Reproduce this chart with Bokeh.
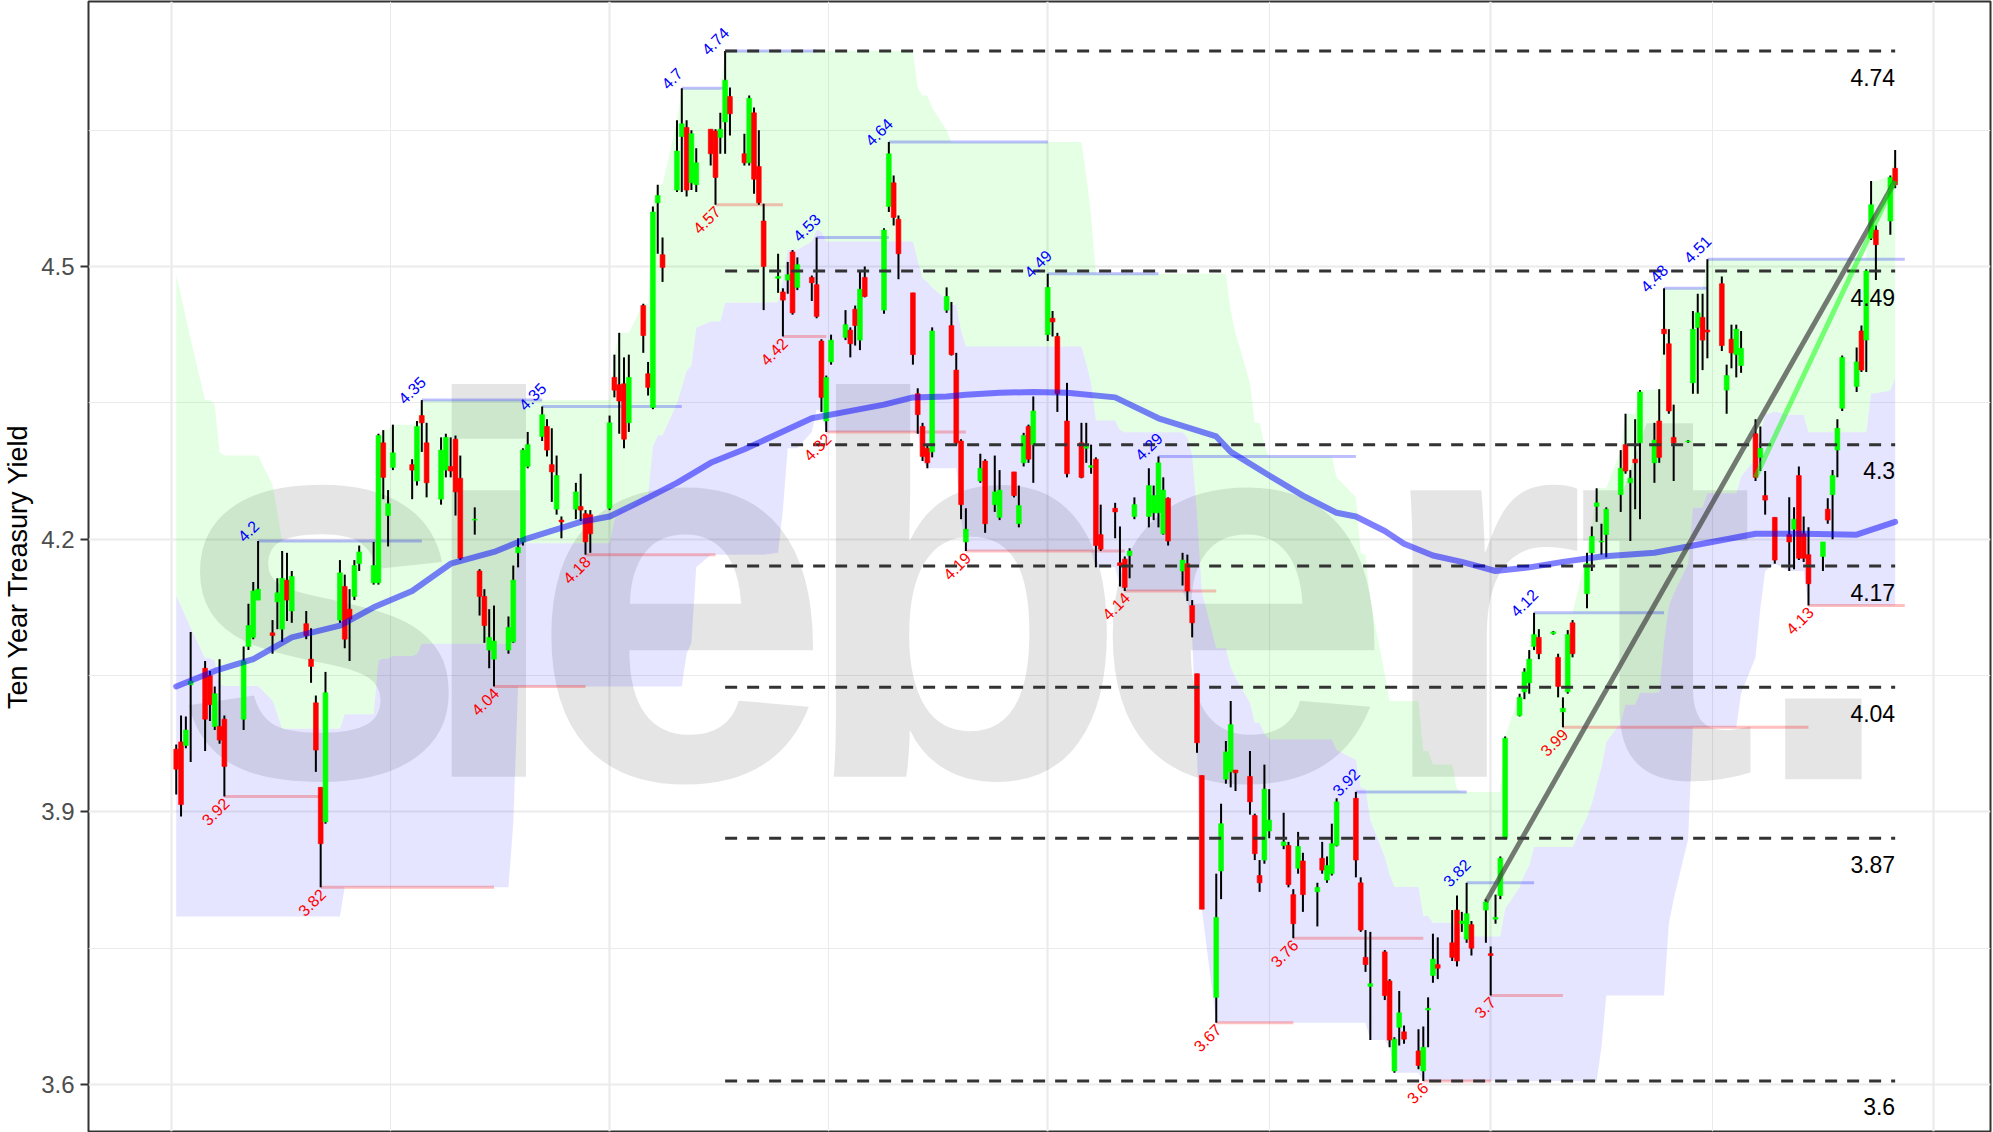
import numpy as np
import pandas as pd
from bokeh.plotting import figure
from bokeh.models import Range1d, FixedTicker
from bokeh.core.properties import value
from bokeh.embed import file_html
from bokeh.resources import INLINE

# ---------------- data: daily candles (day, open, high, low, close) ----------------
jan = [(2, 3.969, 3.974, 3.919, 3.947), (3, 3.977, 4.006, 3.895, 3.908), (4, 3.973, 4.005, 3.970, 3.990),
       (5, 4.040, 4.098, 3.955, 4.044), (8, 4.058, 4.066, 3.967, 4.002), (9, 4.050, 4.055, 4.000, 4.018),
       (10, 3.994, 4.038, 3.990, 4.030), (11, 3.994, 4.068, 3.975, 3.979), (12, 4.002, 4.006, 3.917, 3.950),
       (16, 4.002, 4.082, 3.990, 4.066), (17, 4.082, 4.129, 4.078, 4.105), (18, 4.092, 4.153, 4.090, 4.143),
       (19, 4.133, 4.198, 4.133, 4.145), (22, 4.097, 4.111, 4.074, 4.094), (23, 4.131, 4.157, 4.101, 4.141),
       (24, 4.101, 4.187, 4.087, 4.157), (25, 4.155, 4.185, 4.110, 4.133), (26, 4.121, 4.165, 4.108, 4.159),
       (29, 4.107, 4.121, 4.090, 4.094), (30, 4.068, 4.102, 4.042, 4.060), (31, 4.020, 4.028, 3.944, 3.968)]
feb = [(1, 3.927, 3.927, 3.817, 3.865), (2, 3.889, 4.054, 3.887, 4.031), (5, 4.111, 4.177, 4.108, 4.163),
       (6, 4.148, 4.161, 4.080, 4.090), (7, 4.123, 4.145, 4.066, 4.112), (8, 4.137, 4.177, 4.133, 4.171),
       (9, 4.173, 4.193, 4.165, 4.186), (12, 4.152, 4.197, 4.150, 4.171), (13, 4.152, 4.316, 4.150, 4.314),
       (14, 4.306, 4.320, 4.244, 4.268), (15, 4.226, 4.254, 4.192, 4.239), (16, 4.279, 4.326, 4.276, 4.295),
       (20, 4.282, 4.288, 4.244, 4.276), (21, 4.264, 4.330, 4.259, 4.324), (22, 4.336, 4.353, 4.296, 4.328),
       (23, 4.306, 4.328, 4.246, 4.262), (26, 4.244, 4.312, 4.238, 4.298), (27, 4.276, 4.316, 4.268, 4.312),
       (28, 4.280, 4.312, 4.268, 4.275), (29, 4.310, 4.314, 4.226, 4.252)]
mar = [(1, 4.267, 4.292, 4.177, 4.179), (4, 4.221, 4.235, 4.205, 4.222), (5, 4.165, 4.167, 4.116, 4.137),
       (6, 4.137, 4.145, 4.086, 4.105), (7, 4.078, 4.123, 4.058, 4.092), (8, 4.068, 4.127, 4.038, 4.088),
       (11, 4.078, 4.115, 4.074, 4.103), (12, 4.087, 4.171, 4.086, 4.155), (13, 4.185, 4.201, 4.169, 4.191),
       (14, 4.197, 4.300, 4.193, 4.298), (15, 4.280, 4.318, 4.278, 4.304), (18, 4.313, 4.346, 4.308, 4.337),
       (19, 4.324, 4.332, 4.291, 4.298), (20, 4.282, 4.322, 4.241, 4.274), (21, 4.233, 4.292, 4.227, 4.270),
       (22, 4.221, 4.225, 4.201, 4.219), (25, 4.233, 4.262, 4.222, 4.252), (26, 4.236, 4.272, 4.220, 4.232),
       (27, 4.228, 4.232, 4.183, 4.197), (28, 4.227, 4.232, 4.185, 4.206)]
apr = [(1, 4.234, 4.336, 4.232, 4.328), (2, 4.378, 4.403, 4.356, 4.364), (3, 4.370, 4.427, 4.316, 4.352),
       (4, 4.371, 4.400, 4.300, 4.310), (5, 4.328, 4.403, 4.318, 4.378), (8, 4.457, 4.459, 4.405, 4.424),
       (9, 4.382, 4.395, 4.358, 4.367), (10, 4.345, 4.566, 4.343, 4.560), (11, 4.570, 4.590, 4.514, 4.578),
       (12, 4.513, 4.532, 4.483, 4.499), (15, 4.584, 4.661, 4.582, 4.627), (16, 4.643, 4.696, 4.582, 4.657),
       (17, 4.653, 4.661, 4.577, 4.584), (18, 4.592, 4.650, 4.584, 4.646), (19, 4.590, 4.630, 4.582, 4.614),
       (22, 4.651, 4.651, 4.611, 4.624), (23, 4.649, 4.651, 4.568, 4.598), (24, 4.642, 4.669, 4.624, 4.651),
       (25, 4.659, 4.737, 4.624, 4.705), (26, 4.687, 4.697, 4.644, 4.668), (29, 4.624, 4.646, 4.611, 4.614),
       (30, 4.614, 4.688, 4.611, 4.685)]
may = [(1, 4.669, 4.675, 4.580, 4.596), (2, 4.610, 4.650, 4.568, 4.570), (3, 4.550, 4.569, 4.452, 4.500),
       (6, 4.487, 4.514, 4.471, 4.489), (7, 4.472, 4.476, 4.423, 4.463), (8, 4.485, 4.505, 4.470, 4.491),
       (9, 4.516, 4.518, 4.447, 4.449), (10, 4.477, 4.510, 4.474, 4.502), (13, 4.488, 4.490, 4.462, 4.482),
       (14, 4.480, 4.532, 4.443, 4.445), (15, 4.418, 4.420, 4.340, 4.356), (16, 4.330, 4.380, 4.318, 4.378),
       (17, 4.395, 4.425, 4.392, 4.419), (20, 4.422, 4.452, 4.419, 4.436), (21, 4.430, 4.433, 4.400, 4.415),
       (22, 4.453, 4.457, 4.413, 4.435), (23, 4.419, 4.495, 4.408, 4.475), (24, 4.488, 4.500, 4.466, 4.467),
       (28, 4.452, 4.542, 4.448, 4.540), (29, 4.566, 4.637, 4.560, 4.624), (30, 4.592, 4.600, 4.545, 4.554),
       (31, 4.552, 4.556, 4.486, 4.514)]
jun = [(3, 4.471, 4.471, 4.392, 4.403), (4, 4.360, 4.366, 4.316, 4.337), (5, 4.324, 4.328, 4.286, 4.291),
       (6, 4.300, 4.304, 4.278, 4.284), (7, 4.296, 4.433, 4.290, 4.429), (10, 4.452, 4.477, 4.449, 4.467),
       (11, 4.435, 4.461, 4.402, 4.403), (12, 4.386, 4.405, 4.304, 4.306), (13, 4.308, 4.310, 4.222, 4.238),
       (14, 4.197, 4.234, 4.187, 4.211), (17, 4.264, 4.294, 4.262, 4.278), (18, 4.286, 4.288, 4.207, 4.217),
       (20, 4.238, 4.292, 4.230, 4.252), (21, 4.224, 4.276, 4.221, 4.254), (24, 4.274, 4.274, 4.246, 4.248),
       (25, 4.217, 4.259, 4.213, 4.237), (26, 4.284, 4.317, 4.280, 4.314), (27, 4.324, 4.326, 4.284, 4.288),
       (28, 4.304, 4.357, 4.262, 4.341)]
jul = [(1, 4.425, 4.492, 4.418, 4.477), (2, 4.443, 4.451, 4.423, 4.439), (3, 4.423, 4.427, 4.340, 4.360),
       (5, 4.330, 4.372, 4.268, 4.272), (8, 4.306, 4.328, 4.267, 4.268), (9, 4.300, 4.328, 4.284, 4.302),
       (10, 4.279, 4.304, 4.272, 4.281), (11, 4.288, 4.290, 4.169, 4.193), (12, 4.205, 4.238, 4.187, 4.189),
       (15, 4.234, 4.240, 4.201, 4.230), (16, 4.174, 4.214, 4.148, 4.171), (17, 4.178, 4.181, 4.143, 4.147),
       (18, 4.182, 4.190, 4.157, 4.187), (19, 4.225, 4.246, 4.222, 4.238), (22, 4.225, 4.278, 4.213, 4.259),
       (23, 4.229, 4.259, 4.221, 4.248), (24, 4.229, 4.291, 4.213, 4.284), (25, 4.206, 4.268, 4.205, 4.254),
       (26, 4.245, 4.246, 4.193, 4.198), (29, 4.165, 4.185, 4.149, 4.177), (30, 4.173, 4.183, 4.132, 4.143),
       (31, 4.127, 4.133, 4.092, 4.108)]
aug = [(1, 4.052, 4.052, 3.965, 3.976), (2, 3.940, 3.940, 3.793, 3.793), (5, 3.696, 3.832, 3.668, 3.784),
       (6, 3.835, 3.909, 3.804, 3.887), (7, 3.936, 3.978, 3.931, 3.966), (8, 3.944, 4.022, 3.927, 3.996),
       (9, 3.946, 3.946, 3.923, 3.943), (12, 3.939, 3.967, 3.897, 3.911), (13, 3.896, 3.898, 3.847, 3.854),
       (14, 3.830, 3.847, 3.812, 3.822), (15, 3.847, 3.952, 3.843, 3.925), (16, 3.879, 3.925, 3.871, 3.891),
       (19, 3.863, 3.899, 3.859, 3.867), (20, 3.863, 3.867, 3.817, 3.820), (21, 3.809, 3.815, 3.761, 3.777),
       (22, 3.838, 3.878, 3.832, 3.862), (23, 3.846, 3.855, 3.790, 3.809), (26, 3.812, 3.822, 3.774, 3.817),
       (27, 3.849, 3.867, 3.832, 3.836), (28, 3.825, 3.851, 3.822, 3.841), (29, 3.832, 3.887, 3.830, 3.865),
       (30, 3.863, 3.915, 3.862, 3.911)]
sep = [(3, 3.915, 3.922, 3.828, 3.847), (4, 3.822, 3.828, 3.768, 3.770), (5, 3.740, 3.770, 3.724, 3.732),
       (6, 3.708, 3.768, 3.649, 3.711), (9, 3.746, 3.748, 3.693, 3.698), (10, 3.714, 3.716, 3.641, 3.649),
       (11, 3.615, 3.652, 3.613, 3.650), (12, 3.663, 3.703, 3.643, 3.679), (13, 3.658, 3.665, 3.645, 3.650),
       (16, 3.637, 3.661, 3.617, 3.621), (17, 3.615, 3.664, 3.604, 3.641), (18, 3.682, 3.696, 3.641, 3.684),
       (19, 3.720, 3.766, 3.712, 3.738), (20, 3.732, 3.762, 3.716, 3.728), (23, 3.756, 3.792, 3.736, 3.740),
       (24, 3.792, 3.808, 3.730, 3.736), (25, 3.777, 3.790, 3.768, 3.780), (26, 3.760, 3.822, 3.756, 3.788),
       (27, 3.776, 3.780, 3.742, 3.750), (30, 3.792, 3.804, 3.756, 3.801)]
octo = [(1, 3.744, 3.752, 3.698, 3.742), (2, 3.782, 3.809, 3.777, 3.784), (3, 3.808, 3.851, 3.804, 3.849),
        (4, 3.871, 3.983, 3.870, 3.981), (7, 4.006, 4.030, 4.005, 4.026), (8, 4.032, 4.058, 4.024, 4.054),
        (9, 4.042, 4.078, 4.030, 4.068), (10, 4.082, 4.119, 4.078, 4.095), (11, 4.092, 4.101, 4.068, 4.074),
        (14, 4.096, 4.099, 4.095, 4.098), (15, 4.070, 4.074, 4.026, 4.038), (16, 4.010, 4.026, 3.993, 4.014),
        (17, 4.032, 4.100, 4.030, 4.095), (18, 4.108, 4.111, 4.070, 4.074), (21, 4.140, 4.185, 4.124, 4.173),
        (22, 4.185, 4.214, 4.165, 4.203), (23, 4.236, 4.256, 4.219, 4.240), (24, 4.197, 4.217, 4.183, 4.198),
        (25, 4.205, 4.235, 4.180, 4.233), (28, 4.249, 4.298, 4.230, 4.278), (29, 4.304, 4.338, 4.272, 4.275),
        (30, 4.262, 4.276, 4.198, 4.267), (31, 4.288, 4.332, 4.233, 4.284)]
nov = [(1, 4.306, 4.364, 4.222, 4.362), (4, 4.284, 4.328, 4.262, 4.309), (5, 4.330, 4.365, 4.284, 4.290),
       (6, 4.431, 4.476, 4.403, 4.426), (7, 4.415, 4.431, 4.338, 4.341), (8, 4.312, 4.348, 4.264, 4.306),
       (11, 4.307, 4.309, 4.306, 4.308), (12, 4.372, 4.451, 4.360, 4.431), (13, 4.433, 4.470, 4.360, 4.449),
       (14, 4.444, 4.470, 4.386, 4.419), (15, 4.430, 4.508, 4.399, 4.428), (18, 4.481, 4.489, 4.407, 4.413),
       (19, 4.364, 4.392, 4.338, 4.380), (20, 4.420, 4.436, 4.388, 4.405), (21, 4.403, 4.436, 4.378, 4.431),
       (22, 4.391, 4.429, 4.383, 4.410), (25, 4.316, 4.332, 4.264, 4.268), (26, 4.290, 4.324, 4.275, 4.300),
       (27, 4.248, 4.275, 4.227, 4.243), (29, 4.224, 4.224, 4.173, 4.177)]
dec = [(2, 4.205, 4.246, 4.165, 4.197), (3, 4.211, 4.235, 4.167, 4.222), (4, 4.270, 4.280, 4.177, 4.179),
       (5, 4.206, 4.225, 4.175, 4.179), (6, 4.183, 4.213, 4.127, 4.151), (9, 4.181, 4.197, 4.165, 4.197),
       (10, 4.233, 4.245, 4.217, 4.221), (11, 4.249, 4.276, 4.200, 4.270), (12, 4.298, 4.332, 4.268, 4.322),
       (13, 4.344, 4.402, 4.341, 4.400), (16, 4.368, 4.411, 4.362, 4.395), (17, 4.429, 4.435, 4.384, 4.386),
       (18, 4.419, 4.497, 4.384, 4.495), (19, 4.531, 4.594, 4.529, 4.568), (20, 4.540, 4.545, 4.485, 4.524),
       (23, 4.550, 4.600, 4.535, 4.598), (24, 4.608, 4.628, 4.586, 4.590)]

# 27-session high/low channel; values read for the first sessions (window reaching into 2023)
CHANNEL_DAYS = 27
chan_hi_start = [4.491, 4.468, 4.444, 4.420, 4.353, 4.353, 4.348, 4.296, 4.292, 4.292, 4.292, 4.292, 4.292, 4.260, 4.230]
chan_lo_start_value = 3.785
chan_lo_start_days = 24

# 50-day moving average
ma_dates = ["2024-01-02", "2024-01-10", "2024-01-18", "2024-01-26", "2024-02-05", "2024-02-12", "2024-02-20",
            "2024-02-28", "2024-03-08", "2024-03-15", "2024-03-26", "2024-04-01", "2024-04-08", "2024-04-15",
            "2024-04-22", "2024-04-29", "2024-05-06", "2024-05-13", "2024-05-20", "2024-05-28", "2024-06-03",
            "2024-06-10", "2024-06-14", "2024-06-21", "2024-06-28", "2024-07-05", "2024-07-15", "2024-07-24",
            "2024-08-05", "2024-08-08", "2024-08-16", "2024-08-23", "2024-08-30", "2024-09-03", "2024-09-09",
            "2024-09-13", "2024-09-19", "2024-09-25", "2024-10-02", "2024-10-09", "2024-10-16", "2024-10-24",
            "2024-11-04", "2024-11-14", "2024-11-25", "2024-12-05", "2024-12-16", "2024-12-24"]
ma_vals = [4.038, 4.055, 4.068, 4.092, 4.105, 4.125, 4.143, 4.173, 4.186, 4.201, 4.219, 4.225, 4.243, 4.262,
           4.284, 4.299, 4.316, 4.333, 4.340, 4.348, 4.356, 4.357, 4.359, 4.361, 4.362, 4.361, 4.356, 4.333,
           4.313, 4.296, 4.270, 4.248, 4.229, 4.225, 4.209, 4.195, 4.182, 4.175, 4.165, 4.169, 4.175, 4.181,
           4.185, 4.195, 4.206, 4.206, 4.205, 4.219]

# swing highs / lows
pivot_high_dates = ["2024-01-19", "2024-02-22", "2024-03-18", "2024-04-16", "2024-04-25", "2024-05-14",
                    "2024-05-29", "2024-07-01", "2024-07-24", "2024-09-03", "2024-09-26", "2024-10-10",
                    "2024-11-06", "2024-11-15"]
pivot_low_dates = ["2024-01-12", "2024-02-01", "2024-03-08", "2024-03-27", "2024-04-23", "2024-05-07",
                   "2024-05-16", "2024-06-14", "2024-07-17", "2024-08-05", "2024-08-21", "2024-09-17",
                   "2024-10-01", "2024-10-16", "2024-12-06"]
pivot_line_end = "2024-12-26"

# Fibonacci retracement of the Apr 25 high / Sep 17 low
fib_levels = [4.737, 4.495, 4.304, 4.1705, 4.037, 3.871, 3.604]
fib_labels = ["4.74", "4.49", "4.3", "4.17", "4.04", "3.87", "3.6"]
fib_start = "2024-04-25"
fib_end = "2024-12-24"

# trend lines
trend_gray_dates = ["2024-09-30", "2024-12-24"]
trend_gray_vals = [3.801, 4.594]
trend_green_dates = ["2024-11-25", "2024-12-24"]
trend_green_vals = [4.268, 4.594]

y_ticks = [3.6, 3.9, 4.2, 4.5]
y_minor = [3.75, 4.05, 4.35, 4.65]
x_major = ["2024-01-01", "2024-04-01", "2024-07-01", "2024-10-01", "2025-01-01"]

# ---------------- build frame ----------------
rows = []
for m, block in enumerate([jan, feb, mar, apr, may, jun, jul, aug, sep, octo, nov, dec], start=1):
    for d, o, h, l, c in block:
        rows.append((pd.Timestamp(2024, m, d), o, h, l, c))
df = pd.DataFrame(rows, columns=["date", "open", "high", "low", "close"])
df["top"] = df[["open", "close"]].max(axis=1)
df["bottom"] = df[["open", "close"]].min(axis=1)
df["color"] = np.where(df["close"] >= df["open"], "#00FF00", "#FF0000")

chan_hi = df["high"].rolling(CHANNEL_DAYS, min_periods=1).max().to_numpy()
chan_lo = df["low"].rolling(CHANNEL_DAYS, min_periods=1).min().to_numpy()
k = len(chan_hi_start)
chan_hi[:k] = np.maximum(chan_hi[:k], chan_hi_start)
chan_lo[:chan_lo_start_days] = np.minimum(chan_lo[:chan_lo_start_days], chan_lo_start_value)
chan_mid = (chan_hi + chan_lo) / 2.0

by_date = df.set_index("date")
ph_d = pd.to_datetime(pivot_high_dates)
pl_d = pd.to_datetime(pivot_low_dates)
ph_v = by_date.loc[ph_d, "high"].to_numpy()
pl_v = by_date.loc[pl_d, "low"].to_numpy()


def fmt(v):
    return f"{v:.2f}".rstrip("0").rstrip(".")


end_ts = pd.Timestamp(pivot_line_end)
ph_x1 = list(ph_d[1:]) + [end_ts]
pl_x1 = list(pl_d[1:]) + [end_ts]


def ms(ts):
    return pd.Timestamp(ts).value / 1e6


DAY = 86400000.0
t0 = ms("2024-01-01")
x_start = t0 - 17.22 * DAY
x_end = t0 + 377.8 * DAY
Y0, Y1 = 3.5484, 4.7915

p = figure(width=1993, height=1132, x_axis_type="datetime", x_axis_location=None,
           x_range=Range1d(x_start, x_end), y_range=Range1d(Y0, Y1),
           output_backend="svg", toolbar_location=None,
           min_border_left=86, min_border_right=3, min_border_top=1, min_border_bottom=1,
           background_fill_color="white", border_fill_color="white")
p.outline_line_color = "#333333"
p.outline_line_width = 2

maj = [ms(d) for d in x_major]
mnr = [(a + b) / 2 for a, b in zip(maj[:-1], maj[1:])]
p.xgrid.ticker = FixedTicker(ticks=maj, minor_ticks=mnr)
p.xgrid.grid_line_color = "#EBEBEB"
p.xgrid.grid_line_width = 2.2
p.xgrid.minor_grid_line_color = "#EBEBEB"
p.xgrid.minor_grid_line_width = 1.1

yax = p.yaxis[0]
yax.ticker = FixedTicker(ticks=y_ticks, minor_ticks=y_minor)
yax.axis_line_color = None
yax.minor_tick_line_color = None
yax.major_tick_in = 0
yax.major_tick_out = 8
yax.major_tick_line_color = "#333333"
yax.major_tick_line_width = 2
yax.major_label_text_font = "Liberation Sans"
yax.major_label_text_font_size = "24px"
yax.major_label_text_color = "#4D4D4D"
yax.major_label_standoff = 6
yax.axis_label = "Ten Year Treasury Yield"
yax.axis_label_text_font = "Liberation Sans"
yax.axis_label_text_font_size = "27px"
yax.axis_label_text_font_style = "normal"
yax.axis_label_text_color = "black"
yax.axis_label_standoff = 5
p.ygrid.grid_line_color = "#EBEBEB"
p.ygrid.grid_line_width = 2.2
p.ygrid.minor_grid_line_color = "#EBEBEB"
p.ygrid.minor_grid_line_width = 1.1


def px_to_x(px):
    return x_start + (px - 86) * (x_end - x_start) / 1904.0


def py_to_y(py):
    return Y1 - (py - 1) * (Y1 - Y0) / 1130.0


# watermark (decoration): the logo word "siebert." in bold, baseline at y=776px
# (size must not look like a CSS font weight such as "500")
WM_SIZE = 542
wm_letters = ["s", "i", "e", "b", "e", "r", "t", "."]
wm_px = [318, 487, 679, 962, 1241, 1479, 1666, 1823]
wm_anchor = float(py_to_y(776 - 0.3465 * WM_SIZE))
p.text(x=[float(px_to_x(v)) for v in wm_px], y=[wm_anchor] * len(wm_px), text=wm_letters,
       text_font=value("Liberation Sans"), text_font_style="bold", text_font_size=f"{WM_SIZE}px",
       text_color="black", text_alpha=0.1, text_align="center", text_baseline="alphabetic")

# channel bands
p.varea(x=df["date"], y1=chan_mid, y2=chan_hi, fill_color="#00FF00", fill_alpha=0.1)
p.varea(x=df["date"], y1=chan_lo, y2=chan_mid, fill_color="#0000FF", fill_alpha=0.1)

# swing lines
p.segment(x0=ph_d, x1=ph_x1, y0=ph_v, y1=ph_v, line_color="#0000FF", line_alpha=0.25, line_width=3)
p.segment(x0=pl_d, x1=pl_x1, y0=pl_v, y1=pl_v, line_color="#FF0000", line_alpha=0.25, line_width=3)

# candles
p.segment(x0=df["date"], x1=df["date"], y0=df["low"], y1=df["high"], line_color="black", line_width=2)
p.vbar(x=df["date"], width=DAY, top=df["top"], bottom=df["bottom"],
       fill_color=df["color"], line_color=df["color"], line_width=0.6)

# fibonacci levels
fs, fe = pd.Timestamp(fib_start), pd.Timestamp(fib_end)
p.segment(x0=[fs] * len(fib_levels), x1=[fe] * len(fib_levels), y0=fib_levels, y1=fib_levels,
          line_color="#333333", line_width=3, line_dash="12 10")
p.text(x=[fe] * len(fib_levels), y=fib_levels, text=fib_labels, text_align="right",
       text_baseline="alphabetic", y_offset=26, text_font=value("Liberation Sans"),
       text_font_size="23px", text_color="black")

# moving average
p.line(x=pd.to_datetime(ma_dates), y=ma_vals, line_color="#0000FF", line_alpha=0.5, line_width=6,
       line_join="round", line_cap="round")

# trend lines
p.line(x=pd.to_datetime(trend_gray_dates), y=trend_gray_vals, line_color="#404040", line_alpha=0.7,
       line_width=5)
p.line(x=pd.to_datetime(trend_green_dates), y=trend_green_vals, line_color="#00FF00", line_alpha=0.5,
       line_width=5)

# swing labels
p.text(x=ph_d, y=ph_v, text=[fmt(v) for v in ph_v], angle=np.pi / 4, text_align="center",
       text_baseline="middle", x_offset=-10, y_offset=-10, text_font=value("Liberation Sans"),
       text_font_size="16px", text_color="#0000FF")
p.text(x=pl_d, y=pl_v, text=[fmt(v) for v in pl_v], angle=np.pi / 4, text_align="right",
       text_baseline="middle", x_offset=2, y_offset=4, text_font=value("Liberation Sans"),
       text_font_size="16px", text_color="#FF0000")

open("out.html", "w").write(file_html(p, INLINE))
